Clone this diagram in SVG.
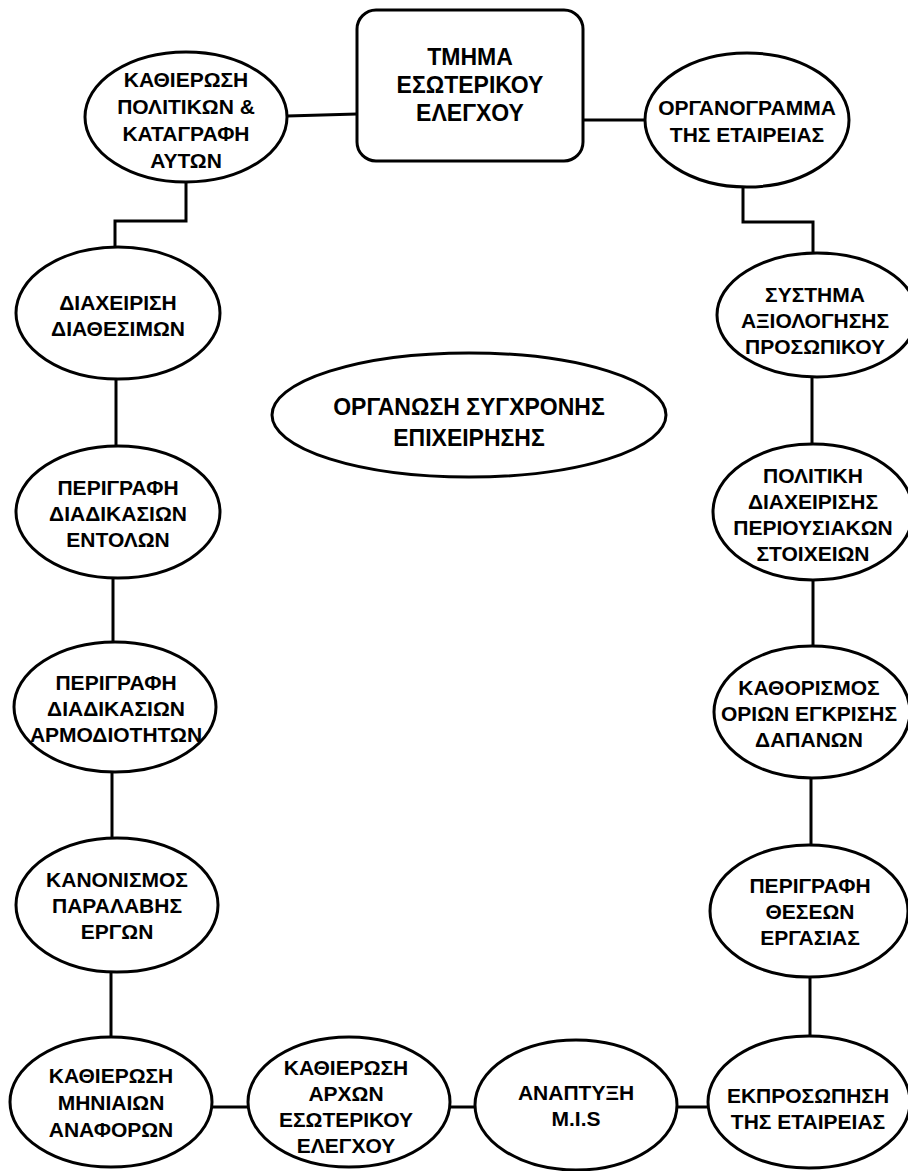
<svg xmlns="http://www.w3.org/2000/svg" width="908" height="1171" viewBox="0 0 908 1171">
<style>
.n{fill:#fff;stroke:#000;stroke-width:3}
.c{fill:none;stroke:#000;stroke-width:3}
text{font-family:"Liberation Sans",Arial,sans-serif;font-weight:bold;font-size:21px;text-anchor:middle;fill:#000}
.big{font-size:23px}
</style>
<rect width="908" height="1171" fill="#fff"/>
<g id="connectors">
<path class="c" d="M287 116 L357 114"/>
<path class="c" d="M584 120 L645 120"/>
<path class="c" d="M186 183 V221 H115 V248"/>
<path class="c" d="M743 187 V222 H813 V253"/>
<path class="c" d="M116 380 V447"/>
<path class="c" d="M113 578 V642"/>
<path class="c" d="M112 773 V838"/>
<path class="c" d="M111 973 V1037"/>
<path class="c" d="M212 1107 H248"/>
<path class="c" d="M450 1107 H475"/>
<path class="c" d="M677 1107 H708"/>
<path class="c" d="M812 377 V444"/>
<path class="c" d="M813 580 V647"/>
<path class="c" d="M811 778 V845"/>
<path class="c" d="M810 977 V1037"/>
</g>
<g id="n-tmima">
<rect class="n" x="357" y="10" width="226" height="151" rx="19"/>
<text class="big" x="470" y="65">ΤΜΗΜΑ</text>
<text class="big" x="470" y="93">ΕΣΩΤΕΡΙΚΟΥ</text>
<text class="big" x="470" y="121">ΕΛΕΓΧΟΥ</text>
</g>
<g id="n-politikes">
<ellipse class="n" cx="186" cy="117" rx="101" ry="65"/>
<text x="186" y="87">ΚΑΘΙΕΡΩΣΗ</text>
<text x="186" y="114">ΠΟΛΙΤΙΚΩΝ &amp;</text>
<text x="186" y="141">ΚΑΤΑΓΡΑΦΗ</text>
<text x="186" y="168">ΑΥΤΩΝ</text>
</g>
<g id="n-organogramma">
<ellipse class="n" cx="747" cy="120" rx="102" ry="67"/>
<text x="747" y="115">ΟΡΓΑΝΟΓΡΑΜΜΑ</text>
<text x="747" y="142">ΤΗΣ ΕΤΑΙΡΕΙΑΣ</text>
</g>
<g id="n-diaxeirisi">
<ellipse class="n" cx="118" cy="313" rx="102" ry="66"/>
<text x="118" y="310">ΔΙΑΧΕΙΡΙΣΗ</text>
<text x="118" y="336">ΔΙΑΘΕΣΙΜΩΝ</text>
</g>
<g id="n-systima">
<ellipse class="n" cx="817" cy="315" rx="100" ry="62"/>
<text x="815" y="302">ΣΥΣΤΗΜΑ</text>
<text x="815" y="328">ΑΞΙΟΛΟΓΗΣΗΣ</text>
<text x="815" y="354">ΠΡΟΣΩΠΙΚΟΥ</text>
</g>
<g id="n-organosi">
<ellipse class="n" cx="469" cy="415" rx="197" ry="62"/>
<text class="big" x="469" y="415">ΟΡΓΑΝΩΣΗ ΣΥΓΧΡΟΝΗΣ</text>
<text class="big" x="469" y="446">ΕΠΙΧΕΙΡΗΣΗΣ</text>
</g>
<g id="n-entolon">
<ellipse class="n" cx="118" cy="512" rx="102" ry="66"/>
<text x="118" y="495">ΠΕΡΙΓΡΑΦΗ</text>
<text x="118" y="521">ΔΙΑΔΙΚΑΣΙΩΝ</text>
<text x="118" y="547">ΕΝΤΟΛΩΝ</text>
</g>
<g id="n-politiki">
<ellipse class="n" cx="813" cy="512" rx="100" ry="68"/>
<text x="813" y="483">ΠΟΛΙΤΙΚΗ</text>
<text x="813" y="509">ΔΙΑΧΕΙΡΙΣΗΣ</text>
<text x="813" y="535">ΠΕΡΙΟΥΣΙΑΚΩΝ</text>
<text x="813" y="561">ΣΤΟΙΧΕΙΩΝ</text>
</g>
<g id="n-armodiotiton">
<ellipse class="n" cx="115" cy="707" rx="101" ry="65"/>
<text x="116" y="690">ΠΕΡΙΓΡΑΦΗ</text>
<text x="116" y="716">ΔΙΑΔΙΚΑΣΙΩΝ</text>
<text x="116" y="742">ΑΡΜΟΔΙΟΤΗΤΩΝ</text>
</g>
<g id="n-kathorismos">
<ellipse class="n" cx="812" cy="712" rx="98" ry="66"/>
<text x="809" y="695">ΚΑΘΟΡΙΣΜΟΣ</text>
<text x="809" y="721">ΟΡΙΩΝ ΕΓΚΡΙΣΗΣ</text>
<text x="809" y="747">ΔΑΠΑΝΩΝ</text>
</g>
<g id="n-kanonismos">
<ellipse class="n" cx="117" cy="905" rx="101" ry="67"/>
<text x="117" y="887">ΚΑΝΟΝΙΣΜΟΣ</text>
<text x="117" y="913">ΠΑΡΑΛΑΒΗΣ</text>
<text x="117" y="939">ΕΡΓΩΝ</text>
</g>
<g id="n-theseon">
<ellipse class="n" cx="809" cy="911" rx="99" ry="66"/>
<text x="810" y="893">ΠΕΡΙΓΡΑΦΗ</text>
<text x="810" y="919">ΘΕΣΕΩΝ</text>
<text x="810" y="945">ΕΡΓΑΣΙΑΣ</text>
</g>
<g id="n-anaforon">
<ellipse class="n" cx="111" cy="1102" rx="101" ry="65"/>
<text x="111" y="1083">ΚΑΘΙΕΡΩΣΗ</text>
<text x="111" y="1110">ΜΗΝΙΑΙΩΝ</text>
<text x="111" y="1137">ΑΝΑΦΟΡΩΝ</text>
</g>
<g id="n-arxon">
<ellipse class="n" cx="349" cy="1102" rx="101" ry="65"/>
<text x="346" y="1075">ΚΑΘΙΕΡΩΣΗ</text>
<text x="346" y="1101">ΑΡΧΩΝ</text>
<text x="346" y="1127">ΕΣΩΤΕΡΙΚΟΥ</text>
<text x="346" y="1153">ΕΛΕΓΧΟΥ</text>
</g>
<g id="n-mis">
<ellipse class="n" cx="576" cy="1105" rx="101" ry="65"/>
<text x="576" y="1100">ΑΝΑΠΤΥΞΗ</text>
<text x="576" y="1126">M.I.S</text>
</g>
<g id="n-ekprosopisi">
<ellipse class="n" cx="809" cy="1102" rx="101" ry="66"/>
<text x="808" y="1103">ΕΚΠΡΟΣΩΠΗΣΗ</text>
<text x="808" y="1129">ΤΗΣ ΕΤΑΙΡΕΙΑΣ</text>
</g>
</svg>
